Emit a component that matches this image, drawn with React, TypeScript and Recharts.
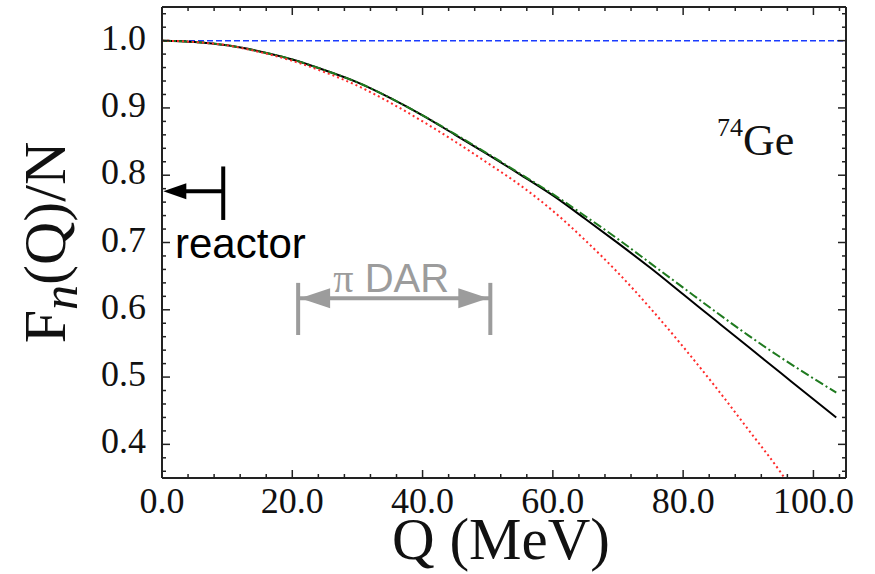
import React from 'react';
import { LineChart, Line, XAxis, YAxis, ReferenceLine, ReferenceDot } from 'recharts';

// ---- data ----
const qGrid = [0, 5, 10, 15, 20, 25, 30, 35, 40, 45, 50, 55, 60, 65, 70, 75, 80, 85, 90, 95, 100, 103.5];
const blackF = [1.0, 0.998, 0.993, 0.984, 0.972, 0.956, 0.938, 0.915, 0.889, 0.86, 0.831, 0.801, 0.77, 0.735, 0.699, 0.662, 0.623, 0.584, 0.545, 0.506, 0.467, 0.44];
const greenF = [1.0, 0.998, 0.993, 0.984, 0.972, 0.956, 0.938, 0.915, 0.889, 0.861, 0.832, 0.802, 0.772, 0.739, 0.705, 0.669, 0.633, 0.597, 0.562, 0.529, 0.498, 0.477];
const redQ = [0, 5, 10, 15, 20, 25, 30, 35, 40, 45, 50, 55, 60, 65, 70, 75, 80, 85, 90, 95, 96];
const redF = [1.0, 0.998, 0.993, 0.983, 0.97, 0.953, 0.933, 0.908, 0.88, 0.85, 0.818, 0.785, 0.747, 0.703, 0.655, 0.602, 0.545, 0.485, 0.422, 0.358, 0.344];
const unityLevel = 1.0;

const xMajorTicks = [0, 20, 40, 60, 80, 100];
const xMinorTicks = [0, 4, 8, 12, 16, 20, 24, 28, 32, 36, 40, 44, 48, 52, 56, 60, 64, 68, 72, 76, 80, 84, 88, 92, 96, 100, 104];
const yMajorTicks = [0.4, 0.5, 0.6, 0.7, 0.8, 0.9, 1.0];
const yMinorTicks = [0.36, 0.38, 0.4, 0.42, 0.44, 0.46, 0.48, 0.5, 0.52, 0.54, 0.56, 0.58, 0.6, 0.62, 0.64, 0.66, 0.68, 0.7, 0.72, 0.74, 0.76, 0.78, 0.8, 0.82, 0.84, 0.86, 0.88, 0.9, 0.92, 0.94, 0.96, 0.98, 1.0, 1.02, 1.04];

// annotations (data coordinates)
const reactorArrow = { q0: 0.2, q1: 9.4, f: 0.776, barTop: 0.813, barBottom: 0.7335 };
const reactorText = { q: 2.0, f: 0.6765, label: 'reactor' };
const darArrow = { q0: 20.9, q1: 50.4, f: 0.617, barTop: 0.64, barBottom: 0.5625 };
const darText = { q: 26.3, f: 0.627, pi: 'π', label: ' DAR' };
const geText = { q: 85.2, f: 0.83, mass: '74', element: 'Ge' };

const blackData = qGrid.map((q, i) => ({ q, f: blackF[i] }));
const greenData = qGrid.map((q, i) => ({ q, f: greenF[i] }));
const redData = redQ.map((q, i) => ({ q, f: redF[i] }));

const AX = '#222';
const SERIF = '"Liberation Serif", "Times New Roman", serif';
const SANS = '"Liberation Sans", Arial, sans-serif';
const GRAY = '#9c9c9c';

const isMajor = (v: number, majors: number[]) => majors.some((m) => Math.abs(m - v) < 1e-6);

const BottomTick = (props: any) => {
  const { x, y, payload } = props;
  const major = isMajor(payload.value, xMajorTicks);
  return (
    <g>
      <line x1={x} x2={x} y1={y} y2={y - (major ? 8 : 4)} stroke={AX} strokeWidth={1.5} />
      {major && (
        <text x={x} y={y + 35} textAnchor="middle" fontFamily={SERIF} fontSize={36} fill="#111">
          {payload.value.toFixed(1)}
        </text>
      )}
    </g>
  );
};

const TopTick = (props: any) => {
  const { x, y, payload } = props;
  const major = isMajor(payload.value, xMajorTicks);
  return <line x1={x} x2={x} y1={y} y2={y + (major ? 8 : 4)} stroke={AX} strokeWidth={1.5} />;
};

const LeftTick = (props: any) => {
  const { x, y, payload } = props;
  const major = isMajor(payload.value, yMajorTicks);
  return (
    <g>
      <line x1={x} x2={x + (major ? 8 : 4)} y1={y} y2={y} stroke={AX} strokeWidth={1.5} />
      {major && (
        <text x={x - 16} y={y + 9} textAnchor="end" fontFamily={SERIF} fontSize={36} fill="#111">
          {payload.value.toFixed(1)}
        </text>
      )}
    </g>
  );
};

const RightTick = (props: any) => {
  const { x, y, payload } = props;
  const major = isMajor(payload.value, yMajorTicks);
  return <line x1={x} x2={x - (major ? 8 : 4)} y1={y} y2={y} stroke={AX} strokeWidth={1.5} />;
};

const XTitle = (props: any) => {
  const vb = props.viewBox || {};
  const cx = vb.x + vb.width / 2 - 3;
  return (
    <text x={cx} y={vb.y + 81} textAnchor="middle" fontFamily={SERIF} fontSize={59} fill="#111">
      Q (MeV)
    </text>
  );
};

const YTitle = (props: any) => {
  const vb = props.viewBox || {};
  const cy = vb.y + vb.height / 2;
  const bx = 65;
  return (
    <text x={bx} y={cy} transform={`rotate(-90, ${bx}, ${cy})`} textAnchor="middle" fontFamily={SERIF} fontSize={60} fill="#111">
      F
      <tspan fontStyle="italic" fontSize={50} dy={12}>n</tspan>
      <tspan dy={-12}>(Q)/N</tspan>
    </text>
  );
};

export default function App() {
  return (
    <div style={{ position: 'absolute', left: 0, top: 0, width: 875, height: 574, background: '#fff' }}>
      <LineChart width={875} height={574} margin={{ top: 0, right: 0, bottom: 0, left: 0 }}>
        <XAxis
          xAxisId="main"
          dataKey="q"
          type="number"
          domain={[0, 105]}
          ticks={xMinorTicks}
          interval={0}
          height={96}
          tickSize={0}
          tickMargin={0}
          tickLine={false}
          axisLine={{ stroke: AX, strokeWidth: 2 }}
          tick={<BottomTick />}
          label={<XTitle />}
          allowDataOverflow
        />
        <XAxis
          xAxisId="top"
          orientation="top"
          dataKey="q"
          type="number"
          domain={[0, 105]}
          ticks={xMinorTicks}
          interval={0}
          height={7}
          tickSize={0}
          tickMargin={0}
          tickLine={false}
          axisLine={{ stroke: AX, strokeWidth: 2 }}
          tick={<TopTick />}
          allowDataOverflow
        />
        <YAxis
          yAxisId="main"
          type="number"
          domain={[0.35, 1.05]}
          ticks={yMinorTicks}
          interval={0}
          width={162}
          tickSize={0}
          tickMargin={0}
          tickLine={false}
          axisLine={{ stroke: AX, strokeWidth: 2 }}
          tick={<LeftTick />}
          label={<YTitle />}
          allowDataOverflow
        />
        <YAxis
          yAxisId="right"
          orientation="right"
          type="number"
          domain={[0.35, 1.05]}
          ticks={yMinorTicks}
          interval={0}
          width={29}
          tickSize={0}
          tickMargin={0}
          tickLine={false}
          axisLine={{ stroke: AX, strokeWidth: 2 }}
          tick={<RightTick />}
          allowDataOverflow
        />

        <ReferenceLine xAxisId="main" yAxisId="main" y={unityLevel} stroke="#1a3cff" strokeWidth={1.5} strokeDasharray="6 3" />

        <Line xAxisId="main" yAxisId="main" data={blackData} dataKey="f" type="monotone" stroke="#000" strokeWidth={2} dot={false} isAnimationActive={false} />
        <Line xAxisId="main" yAxisId="main" data={greenData} dataKey="f" type="monotone" stroke="#1f7a1f" strokeWidth={2} strokeDasharray="9 3 2 3" dot={false} isAnimationActive={false} />
        <Line xAxisId="main" yAxisId="main" data={redData} dataKey="f" type="monotone" stroke="#ff2a2a" strokeWidth={2} strokeDasharray="2 3" dot={false} isAnimationActive={false} />

        {/* reactor annotation */}
        <ReferenceLine xAxisId="main" yAxisId="main" segment={[{ x: reactorArrow.q0 + 3, y: reactorArrow.f }, { x: reactorArrow.q1, y: reactorArrow.f }]} stroke="#000" strokeWidth={4} />
        <ReferenceLine xAxisId="main" yAxisId="main" segment={[{ x: reactorArrow.q1, y: reactorArrow.barTop }, { x: reactorArrow.q1, y: reactorArrow.barBottom }]} stroke="#000" strokeWidth={4} />
        <ReferenceDot
          xAxisId="main"
          yAxisId="main"
          x={reactorArrow.q0}
          y={reactorArrow.f}
          r={1}
          shape={(p: any) => (
            <polygon points={`${p.cx},${p.cy} ${p.cx + 23},${p.cy - 8} ${p.cx + 23},${p.cy + 8}`} fill="#000" />
          )}
        />
        <ReferenceDot
          xAxisId="main"
          yAxisId="main"
          x={reactorText.q}
          y={reactorText.f}
          r={1}
          shape={(p: any) => (
            <text x={p.cx} y={p.cy} fontFamily={SANS} fontSize={42} fill="#000">
              {reactorText.label}
            </text>
          )}
        />

        {/* pi DAR annotation */}
        <ReferenceLine xAxisId="main" yAxisId="main" segment={[{ x: darArrow.q0, y: darArrow.f }, { x: darArrow.q1, y: darArrow.f }]} stroke={GRAY} strokeWidth={4} />
        <ReferenceLine xAxisId="main" yAxisId="main" segment={[{ x: darArrow.q0, y: darArrow.barTop }, { x: darArrow.q0, y: darArrow.barBottom }]} stroke={GRAY} strokeWidth={4} />
        <ReferenceLine xAxisId="main" yAxisId="main" segment={[{ x: darArrow.q1, y: darArrow.barTop }, { x: darArrow.q1, y: darArrow.barBottom }]} stroke={GRAY} strokeWidth={4} />
        <ReferenceDot
          xAxisId="main"
          yAxisId="main"
          x={darArrow.q0}
          y={darArrow.f}
          r={1}
          shape={(p: any) => (
            <polygon points={`${p.cx + 2},${p.cy} ${p.cx + 32},${p.cy - 10} ${p.cx + 32},${p.cy + 10}`} fill={GRAY} />
          )}
        />
        <ReferenceDot
          xAxisId="main"
          yAxisId="main"
          x={darArrow.q1}
          y={darArrow.f}
          r={1}
          shape={(p: any) => (
            <polygon points={`${p.cx - 2},${p.cy} ${p.cx - 32},${p.cy - 10} ${p.cx - 32},${p.cy + 10}`} fill={GRAY} />
          )}
        />
        <ReferenceDot
          xAxisId="main"
          yAxisId="main"
          x={darText.q}
          y={darText.f}
          r={1}
          shape={(p: any) => (
            <text x={p.cx} y={p.cy} fontFamily={SANS} fontSize={40} fill={GRAY}>
              <tspan fontFamily={SERIF}>{darText.pi}</tspan>
              {darText.label}
            </text>
          )}
        />

        {/* 74Ge label */}
        <ReferenceDot
          xAxisId="main"
          yAxisId="main"
          x={geText.q}
          y={geText.f}
          r={1}
          shape={(p: any) => (
            <text x={p.cx} y={p.cy} fontFamily={SERIF} fill="#111">
              <tspan fontSize={26} dy={-19}>{geText.mass}</tspan>
              <tspan fontSize={44} dy={19}>{geText.element}</tspan>
            </text>
          )}
        />
      </LineChart>
    </div>
  );
}
